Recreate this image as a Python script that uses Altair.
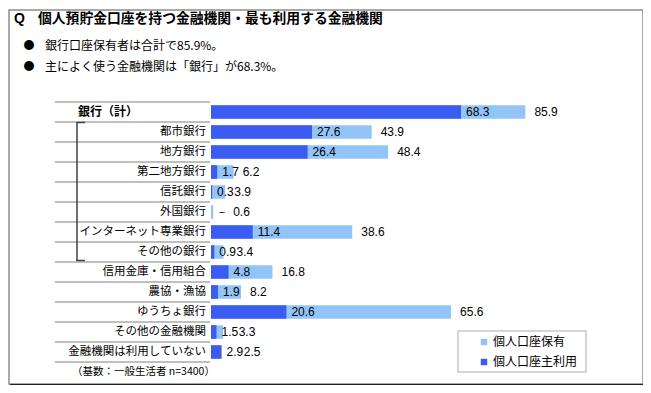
import altair as alt
import pandas as pd

# ---------------- data ----------------
categories = ["銀行（計）", "都市銀行", "地方銀行", "第二地方銀行", "信託銀行", "外国銀行",
              "インターネット専業銀行", "その他の銀行", "信用金庫・信用組合", "農協・漁協",
              "ゆうちょ銀行", "その他の金融機関", "金融機関は利用していない"]
holding = [85.9, 43.9, 48.4, 6.2, 3.9, 0.6, 38.6, 3.4, 16.8, 8.2, 65.6, 3.3, 2.5]
main_use = [68.3, 27.6, 26.4, 1.7, 0.3, 0.0, 11.4, 0.9, 4.8, 1.9, 20.6, 1.5, 2.9]
series_names = ["個人口座保有", "個人口座主利用"]
series_colors = ["#93c4f8", "#3b5bf2"]
x_ticks = [0, 20, 40, 60, 80, 100]

title_q = "Q"
title_text = "個人預貯金口座を持つ金融機関・最も利用する金融機関"
bullets = ["銀行口座保有者は合計で85.9%。", "主によく使う金融機関は「銀行」が68.3%。"]
footnote = "（基数：一般生活者 n=3400）"

JP = "Noto Sans CJK JP"
NUM = "Liberation Sans"

df = pd.DataFrame({"cat": categories, "hold": holding, "main": main_use})

yscale = alt.Scale(domain=categories, paddingInner=0, paddingOuter=0)
xscale = alt.Scale(domain=[0, 100])
cscale = alt.Scale(domain=series_names, range=series_colors)

Y = alt.Y("cat:N", sort=categories, scale=yscale, axis=None)

base = alt.Chart(df)

# frame
frame_df = pd.DataFrame({"k": [0]})
frame = alt.Chart(frame_df).mark_rect(fill="white", stroke="#8c8c8c", strokeWidth=1.5).encode(
    x=alt.value(-202), x2=alt.value(432), y=alt.value(-92), y2=alt.value(282))
shadow_r = alt.Chart(frame_df).mark_rule(color="#222222", strokeWidth=2).encode(
    x=alt.value(433), y=alt.value(-91), y2=alt.value(283))
shadow_b = alt.Chart(frame_df).mark_rule(color="#222222", strokeWidth=2).encode(
    y=alt.value(283), x=alt.value(-201), x2=alt.value(434))

# bars
hold_bar = base.mark_bar(size=13.5).transform_calculate(series="'個人口座保有'").encode(
    x=alt.X("hold:Q", scale=xscale,
            axis=alt.Axis(orient="top", values=x_ticks, labelExpr="datum.value + '%'",
                          title=None, grid=False, domainColor="#a6a6a6", tickColor="#a6a6a6",
                          tickSize=3, labelFont=NUM, labelFontSize=9, labelColor="#707070",
                          labelPadding=4, domainWidth=1.2)),
    y=Y,
    color=alt.Color("series:N", scale=cscale,
                    legend=alt.Legend(orient="none", legendX=267, legendY=234, title=None,
                                      symbolType="square", symbolSize=42, symbolStrokeWidth=0,
                                      labelFont=JP, labelFontSize=12, labelColor="black",
                                      rowPadding=8, labelOffset=3, padding=0)),
)
main_bar = base.mark_bar(size=13.5).transform_calculate(series="'個人口座主利用'").encode(
    x=alt.X("main:Q", scale=xscale, axis=None),
    y=Y,
    color=alt.Color("series:N", scale=cscale),
)

# value labels
main_lbl = base.transform_calculate(
    mlabel="datum.main == 0 ? '－' : format(datum.main, '.1f')"
).mark_text(align="left", baseline="middle", dx=5, font=NUM, fontSize=12, color="black").encode(
    x=alt.X("main:Q", scale=xscale, axis=None), y=Y, text="mlabel:N")
hold_lbl = base.transform_calculate(
    hpos="max(datum.hold, datum.main + 3.6)", hlabel="format(datum.hold, '.1f')"
).mark_text(align="left", baseline="middle", dx=9, font=NUM, fontSize=12, color="black").encode(
    x=alt.X("hpos:Q", scale=xscale, axis=None), y=Y, text="hlabel:N")

# category labels
cat_lbl = base.transform_filter(alt.datum.cat != categories[0]).mark_text(
    align="right", baseline="middle", font=JP, fontSize=11.5, color="black").encode(
    x=alt.value(-5), y=Y, text="cat:N")
cat_first = base.transform_filter(alt.datum.cat == categories[0]).mark_text(
    align="left", baseline="middle", font=JP, fontSize=12, fontWeight="bold", color="black").encode(
    x=alt.value(-133), y=Y, text="cat:N")

# separator lines
sep = base.mark_rule(color="#bfbfbf", strokeWidth=2).encode(
    y=alt.Y("cat:N", sort=categories, scale=yscale, axis=None, bandPosition=0),
    x=alt.value(-156), x2=alt.value(-1))
sep_last = base.transform_filter(alt.datum.cat == categories[-1]).mark_rule(
    color="#bfbfbf", strokeWidth=2).encode(
    y=alt.Y("cat:N", sort=categories, scale=yscale, axis=None, bandPosition=1),
    x=alt.value(-156), x2=alt.value(-1))

# bracket
br_v = alt.Chart(frame_df).mark_rule(color="#404040", strokeWidth=1.5).encode(
    x=alt.value(-134), y=alt.value(20), y2=alt.value(159))
br_t = alt.Chart(frame_df).mark_rule(color="#404040", strokeWidth=1.5).encode(
    y=alt.value(20.5), x=alt.value(-134.5), x2=alt.value(-126))
br_b = alt.Chart(frame_df).mark_rule(color="#404040", strokeWidth=1.5).encode(
    y=alt.value(158.5), x=alt.value(-134.5), x2=alt.value(-126))

# texts
tq = alt.Chart(pd.DataFrame({"t": [title_q]})).mark_text(
    align="left", baseline="middle", font=NUM, fontSize=14, fontWeight="bold", color="black").encode(
    x=alt.value(-197), y=alt.value(-83), text="t:N")
title = alt.Chart(pd.DataFrame({"t": [title_text]})).mark_text(
    align="left", baseline="middle", font=JP, fontSize=13.8, fontWeight="bold", color="black").encode(
    x=alt.value(-173), y=alt.value(-83), text="t:N")
bul_df = pd.DataFrame({"t": bullets, "i": [0, 1]})
bul_dot = alt.Chart(bul_df).mark_text(
    align="center", baseline="middle", font=JP, fontSize=11, color="black").transform_calculate(
    d="'●'", yy="-56 + datum.i * 21").encode(
    x=alt.value(-182), y=alt.Y("yy:Q", scale=None, axis=None), text="d:N")
bul_txt = alt.Chart(bul_df).mark_text(
    align="left", baseline="middle", font=JP, fontSize=12, color="black").transform_calculate(
    yy="-56 + datum.i * 21").encode(
    x=alt.value(-166), y=alt.Y("yy:Q", scale=None, axis=None), text="t:N")
foot = alt.Chart(pd.DataFrame({"t": [footnote]})).mark_text(
    align="left", baseline="middle", font=JP, fontSize=10.5, color="black").encode(
    x=alt.value(-139), y=alt.value(270), text="t:N")

# legend box
leg_box = alt.Chart(frame_df).mark_rect(fill="white", stroke="#c8c8c8", strokeWidth=1.5).encode(
    x=alt.value(247), x2=alt.value(375), y=alt.value(229), y2=alt.value(270))

chart = alt.layer(
    frame, shadow_r, shadow_b, sep, sep_last, br_v, br_t, br_b,
    hold_bar, main_bar, main_lbl, hold_lbl, cat_lbl, cat_first,
    tq, title, bul_dot, bul_txt, foot, leg_box
).resolve_scale(y="independent").properties(
    width=366, height=260,
    padding={"left": 203, "top": 94, "right": 66, "bottom": 23},
    autosize="none", background="white"
).configure_view(strokeWidth=0)

chart.save("out.html", embed_options={"renderer": "svg", "actions": False})
